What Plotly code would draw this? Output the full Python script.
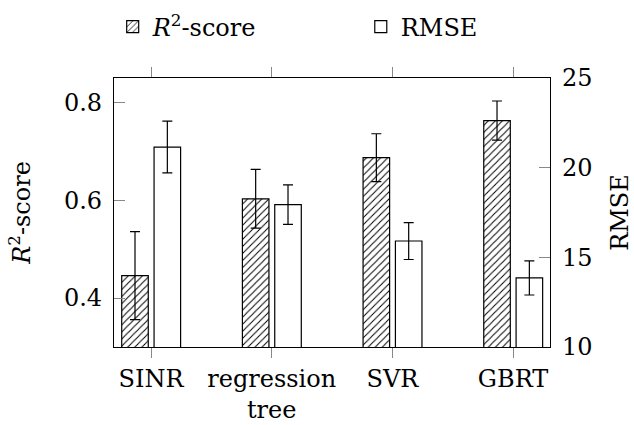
import plotly.graph_objects as go

categories = ["SINR", "regression<br>tree", "SVR", "GBRT"]
r2_values = [0.446, 0.603, 0.687, 0.763]
r2_errors = [0.09, 0.06, 0.049, 0.04]
rmse_values = [21.15, 17.94, 15.91, 13.85]
rmse_errors = [1.44, 1.1, 1.03, 0.95]
r2_ticks = [0.4, 0.6, 0.8]
rmse_ticks = [10, 15, 20, 25]

FONT = "'DejaVu Serif', 'Liberation Serif', serif"
FS = 24

fig = go.Figure()
fig.add_trace(go.Bar(
    x=categories, y=r2_values, name="<i>R</i><sup>2</sup>-score",
    width=0.22, offset=-0.243, yaxis="y", legend="legend",
    marker=dict(color="white", line=dict(color="black", width=1.2),
                pattern=dict(shape="/", fgcolor="black", bgcolor="white", size=5, solidity=0.2)),
    error_y=dict(type="data", array=r2_errors, color="black", thickness=1.2, width=5),
))
fig.add_trace(go.Bar(
    x=categories, y=rmse_values, name="RMSE",
    width=0.22, offset=0.025, yaxis="y2", legend="legend2",
    marker=dict(color="white", line=dict(color="black", width=1.2)),
    error_y=dict(type="data", array=rmse_errors, color="black", thickness=1.2, width=5),
))

leg_common = dict(orientation="h", yref="container", xanchor="left", yanchor="middle",
                  y=1 - 27 / 425, font=dict(family=FONT, size=FS, color="black"),
                  bgcolor="rgba(0,0,0,0)", borderwidth=0)

fig.update_layout(
    template="none",
    width=634, height=425,
    margin=dict(l=114, r=84, t=78, b=78, autoexpand=False),
    paper_bgcolor="white", plot_bgcolor="white",
    font=dict(family=FONT, size=FS, color="black"),
    barmode="overlay",
    showlegend=True,
    legend=dict(x=-0.003, **leg_common),
    legend2=dict(x=0.566, **leg_common),
    xaxis=dict(range=[-0.307, 3.306], showline=True, linecolor="black", linewidth=1.2,
               mirror="ticks", ticks="outside", ticklen=10, tickcolor="#888888", tickwidth=1,
               showgrid=False, zeroline=False, automargin=False,
               tickfont=dict(family=FONT, size=FS, color="black")),
    yaxis=dict(range=[0.3, 0.85], tickvals=r2_ticks, ticktext=["0.4", "0.6", "0.8"],
               showline=True, linecolor="black", linewidth=1.2,
               ticks="inside", ticklen=11, tickcolor="#888888", tickwidth=1,
               showgrid=False, zeroline=False, ticklabelstandoff=6, automargin=False,
               tickfont=dict(family=FONT, size=FS, color="black"),
               title=dict(text="<i>R</i><sup>2</sup>-score", font=dict(family=FONT, size=FS, color="black"), standoff=26)),
    yaxis2=dict(range=[10, 25], tickvals=rmse_ticks, overlaying="y", side="right",
                showline=True, linecolor="black", linewidth=1.2,
                ticks="inside", ticklen=11, tickcolor="#888888", tickwidth=1,
                showgrid=False, zeroline=False, ticklabelstandoff=6, automargin=False,
                tickfont=dict(family=FONT, size=FS, color="black"),
                title=dict(text="RMSE", font=dict(family=FONT, size=FS, color="black"), standoff=22)),
)

fig.write_html("out.html")
